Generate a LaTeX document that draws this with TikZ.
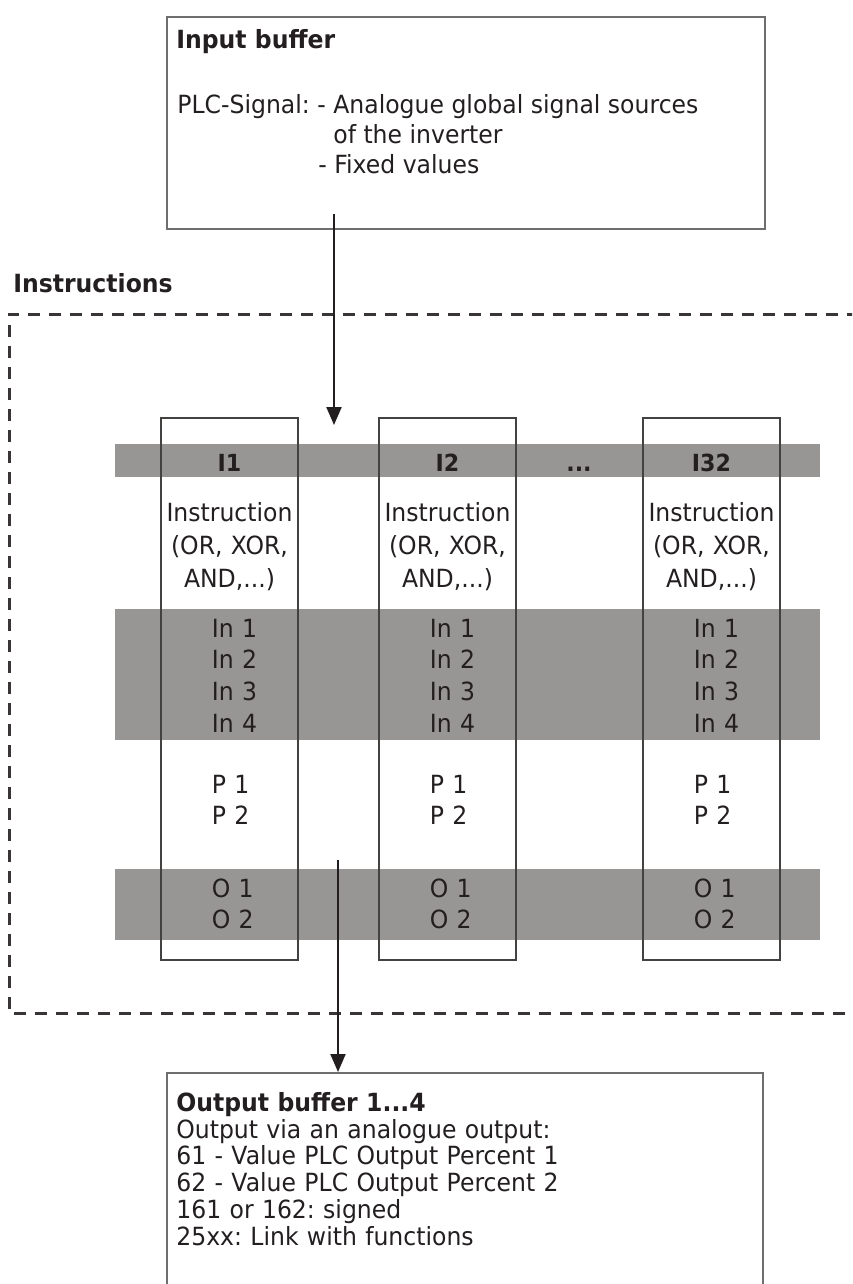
\documentclass[tikz,border=0pt]{standalone}
\usepackage{fontspec}
\setmainfont{DejaVu Sans}[FakeStretch=0.94]
\usetikzlibrary{arrows.meta,positioning,calc}
\definecolor{bandGray}{RGB}{151,150,148}
\definecolor{frameGray}{RGB}{110,110,110}
\definecolor{inkBlack}{RGB}{35,31,32}
\frenchspacing

\begin{document}
\begin{tikzpicture}[x=0.2mm, y=-0.2mm,
  buffer/.style={draw=frameGray, line width=0.4mm, anchor=north west, inner sep=0},
  colbox/.style={draw=inkBlack!85, line width=0.28mm, minimum width=27.4mm,
                 minimum height=108.4mm, inner sep=0},
  txt/.style={inner sep=0, anchor=base west, text=inkBlack,
              font=\fontsize{14.25}{17.07}\selectfont},
  txtb/.style={txt, font=\bfseries\fontsize{14.25}{17.07}\selectfont},
  head/.style={txt, anchor=base, font=\bfseries\fontsize{13.4}{15}\selectfont},
  cell/.style={txt, text width=20mm, align=left,
               font=\fontsize{14.25}{18.2}\selectfont},
  flow/.style={draw=inkBlack, line width=0.42mm, -{Triangle[length=3.6mm, width=3mm]}},
  frame/.style={draw=inkBlack!90, line width=0.6mm, dash pattern=on 2.4mm off 1.8mm}
]
  \path[use as bounding box, clip] (0,0) rectangle (852,1284);

  % input buffer
  \node[buffer, minimum width=119.6mm, minimum height=42.4mm] (inbuf) at (166,16) {};
  \node[txtb] (inTitle) at (176,48) {Input buffer};
  \node[txt] (sigA) at (177,113) {PLC-Signal: - Analogue global signal sources};
  \node[txt] (sigB) at (333,143) {of the inverter};
  \node[txt] (sigC) at (318,173) {- Fixed values};

  % instructions frame
  \node[txtb] (instr) at (13,292) {Instructions};
  \draw[frame] (880,314) -| (9,1013) -- (880,1013);

  \coordinate (inStart) at (334,214);
  \coordinate (inEnd) at (334,425);
  \draw[flow] (inStart) -- (inEnd);

  \foreach \top/\bot in {444/477, 609/740, 869/940}
    \fill[bandGray] (115,\top) rectangle (820,\bot);

  \foreach \cx/\lbl [count=\i] in {229.5/I1, 447.5/I2, 711.5/I32} {
    \node[colbox] (col\i) at (\cx,689) {};
    \node[head] (head\i) at (\cx,471) {\lbl};
    \node[cell, anchor=base, text width=26mm, align=center,
          font=\fontsize{14.25}{18.8}\selectfont] (op\i) at (\cx,521)
      {Instruction\\(OR, XOR,\\AND,...)};
    \node[cell] (in\i) at (\cx-18,637) {In 1\\In 2\\In 3\\In 4};
    \node[cell] (par\i) at (\cx-18,793) {P 1\\P 2};
    \node[cell] (out\i) at (\cx-18,897) {O 1\\O 2};
  }
  \node[head] (dots) at (579,471) {...};

  % output buffer
  \node[buffer, minimum width=119.2mm, minimum height=50mm] (outbuf) at (166,1072) {};
  \node[txt, text width=110mm, align=left,
        font=\fontsize{14.25}{15.36}\selectfont] (outText) at (176,1111)
    {\textbf{Output buffer 1...4}\\
     Output via an analogue output:\\
     61 - Value PLC Output Percent 1\\
     62 - Value PLC Output Percent 2\\
     161 or 162: signed\\
     25xx: Link with functions};

  \coordinate (outStart) at (338,860);
  \draw[flow] (outStart) -- (outStart |- outbuf.north);
\end{tikzpicture}
\end{document}
